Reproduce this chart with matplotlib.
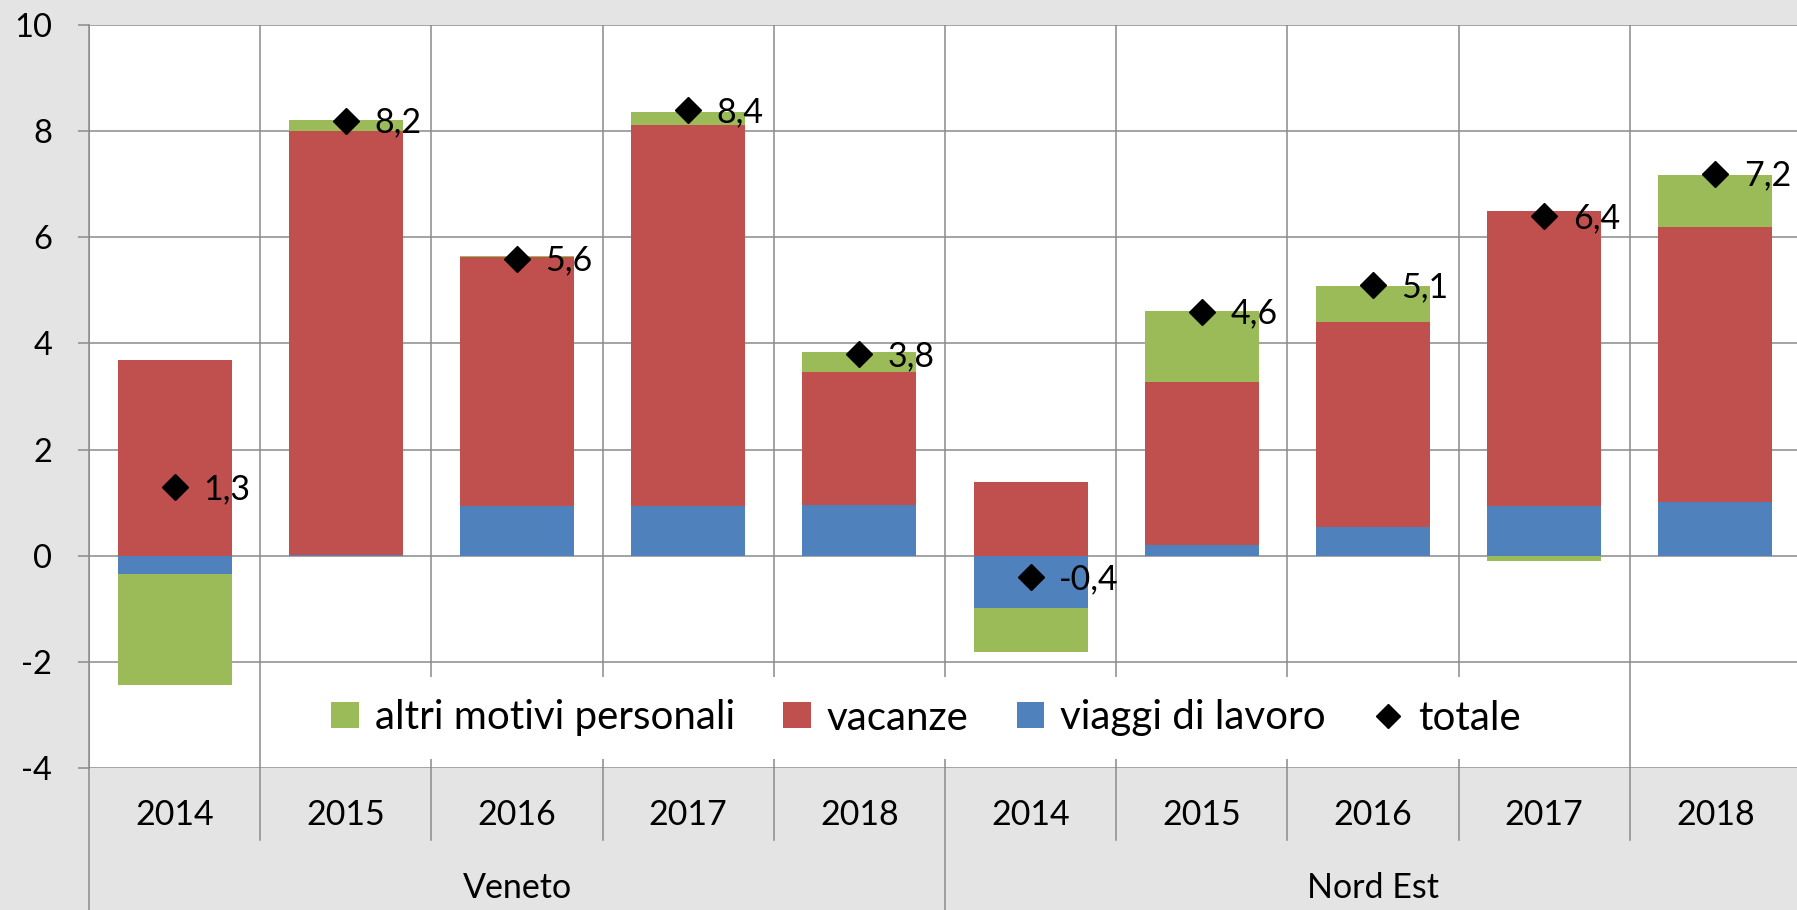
import matplotlib
matplotlib.use("Agg")
import matplotlib.pyplot as plt
from matplotlib.patches import Patch
from matplotlib.lines import Line2D
import numpy as np

plt.rcParams['font.family'] = ['Lato', 'DejaVu Sans']
plt.rcParams['axes.unicode_minus'] = False

# ---- data ----
years = ["2014", "2015", "2016", "2017", "2018", "2014", "2015", "2016", "2017", "2018"]
groups = ["Veneto", "Nord Est"]
viaggi_lavoro = [-0.35, 0.02, 0.93, 0.94, 0.95, -0.98, 0.20, 0.55, 0.94, 1.01]
vacanze = [3.69, 7.98, 4.70, 7.17, 2.51, 1.39, 3.07, 3.86, 5.56, 5.19]
altri_motivi = [-2.08, 0.21, 0.01, 0.25, 0.38, -0.84, 1.34, 0.68, -0.10, 0.97]
totale = [1.3, 8.2, 5.6, 8.4, 3.8, -0.4, 4.6, 5.1, 6.4, 7.2]
y_ticks = [-4, -2, 0, 2, 4, 6, 8, 10]

C_GREEN = "#9BBB59"
C_RED = "#C0504D"
C_BLUE = "#4F81BD"
GRID = "#8a8a8a"
FS_Y = 23.5
FS_X = 24.5
FS_DATA = 24.5
FS_LEG = 29

W, H = 1797, 910
fig = plt.figure(figsize=(W / 100, H / 100), dpi=100)
fig.patch.set_facecolor("#e4e4e4")

x0, x1, ytop, ybot = 89, 1801, 25, 768
ax = fig.add_axes([x0 / W, 1 - ybot / H, (x1 - x0) / W, (ybot - ytop) / H])
ax.set_facecolor("white")

x = np.arange(len(years))
ax.set_xlim(-0.5, len(years) - 0.5)
ax.set_ylim(min(y_ticks), max(y_ticks))

# stacked bars (positive and negative stacks separately)
pos_bottom = np.zeros(len(x))
neg_bottom = np.zeros(len(x))
bw = 0.665
for vals, col in [(viaggi_lavoro, C_BLUE), (vacanze, C_RED), (altri_motivi, C_GREEN)]:
    v = np.array(vals)
    bottoms = np.where(v >= 0, pos_bottom, neg_bottom)
    ax.bar(x, v, bottom=bottoms, width=bw, color=col, edgecolor="none", zorder=3)
    pos_bottom = pos_bottom + np.where(v >= 0, v, 0)
    neg_bottom = neg_bottom + np.where(v < 0, v, 0)

# total markers + labels
ax.plot(x, totale, linestyle="none", marker="D", markersize=13.5, color="black", zorder=5)
for xi, t in zip(x, totale):
    ax.annotate(f"{t:.1f}".replace(".", ","), (xi, t), xytext=(20.5, -1.5),
                textcoords="offset points", ha="left", va="center", fontsize=FS_DATA,
                color="black", zorder=6)

# axes styling
ax.set_yticks(y_ticks)
ax.set_yticklabels([str(v) for v in y_ticks])
ax.tick_params(axis="y", direction="out", length=8, width=1.1, color=GRID,
               pad=18.5, labelsize=FS_Y)
ax.set_xticks(x)
ax.set_xticklabels(years)
ax.tick_params(axis="x", length=0, pad=22, labelsize=FS_X)
ax.set_xticks(np.arange(-0.5, len(years), 1.0), minor=True)
ax.tick_params(axis="x", which="minor", length=0)
ax.grid(axis="y", which="major", color=GRID, linewidth=1.1, zorder=0)
ax.grid(axis="x", which="minor", color=GRID, linewidth=1.1, zorder=0)
ax.grid(axis="x", which="major", visible=False)
ax.set_axisbelow(True)
for s in ["top", "right", "bottom"]:
    ax.spines[s].set_visible(False)
ax.spines["left"].set_color(GRID)
ax.spines["left"].set_linewidth(1.1)

# multi-level category axis dividers below plot
trans = ax.get_xaxis_transform()
short = (ybot - 840) / (ybot - ytop)
long_ = (ybot - 940) / (ybot - ytop)
n_per_group = len(years) // len(groups)
for b in np.arange(-0.5, len(years), 1.0):
    is_group_edge = abs(((b + 0.5) % n_per_group)) < 1e-9
    y_end = long_ if is_group_edge else short
    ax.add_line(Line2D([b, b], [0, y_end], transform=trans, color=GRID,
                       linewidth=1.1, clip_on=False))

for gi, g in enumerate(groups):
    xc = gi * n_per_group + (n_per_group - 1) / 2
    ax.text(xc, (ybot - 888) / (ybot - ytop), g, transform=trans, ha="center",
            va="center", fontsize=FS_X)

# legend
handles = [Patch(facecolor=C_GREEN, edgecolor="none", label="altri motivi personali"),
           Patch(facecolor=C_RED, edgecolor="none", label="vacanze"),
           Patch(facecolor=C_BLUE, edgecolor="none", label="viaggi di lavoro"),
           Line2D([], [], linestyle="none", marker="D", markersize=12, color="black",
                  label="totale")]
leg = fig.legend(handles=handles, loc="center", bbox_to_anchor=(926 / W, 1 - 718 / H),
                 ncol=4, frameon=True, facecolor="white", edgecolor="none", framealpha=1,
                 fontsize=FS_LEG, handlelength=0.68, handleheight=0.62, handletextpad=0.4,
                 columnspacing=1.2, borderpad=0.55, fancybox=False)
leg.set_zorder(10)

fig.savefig("out.png", dpi=100, facecolor=fig.get_facecolor())
